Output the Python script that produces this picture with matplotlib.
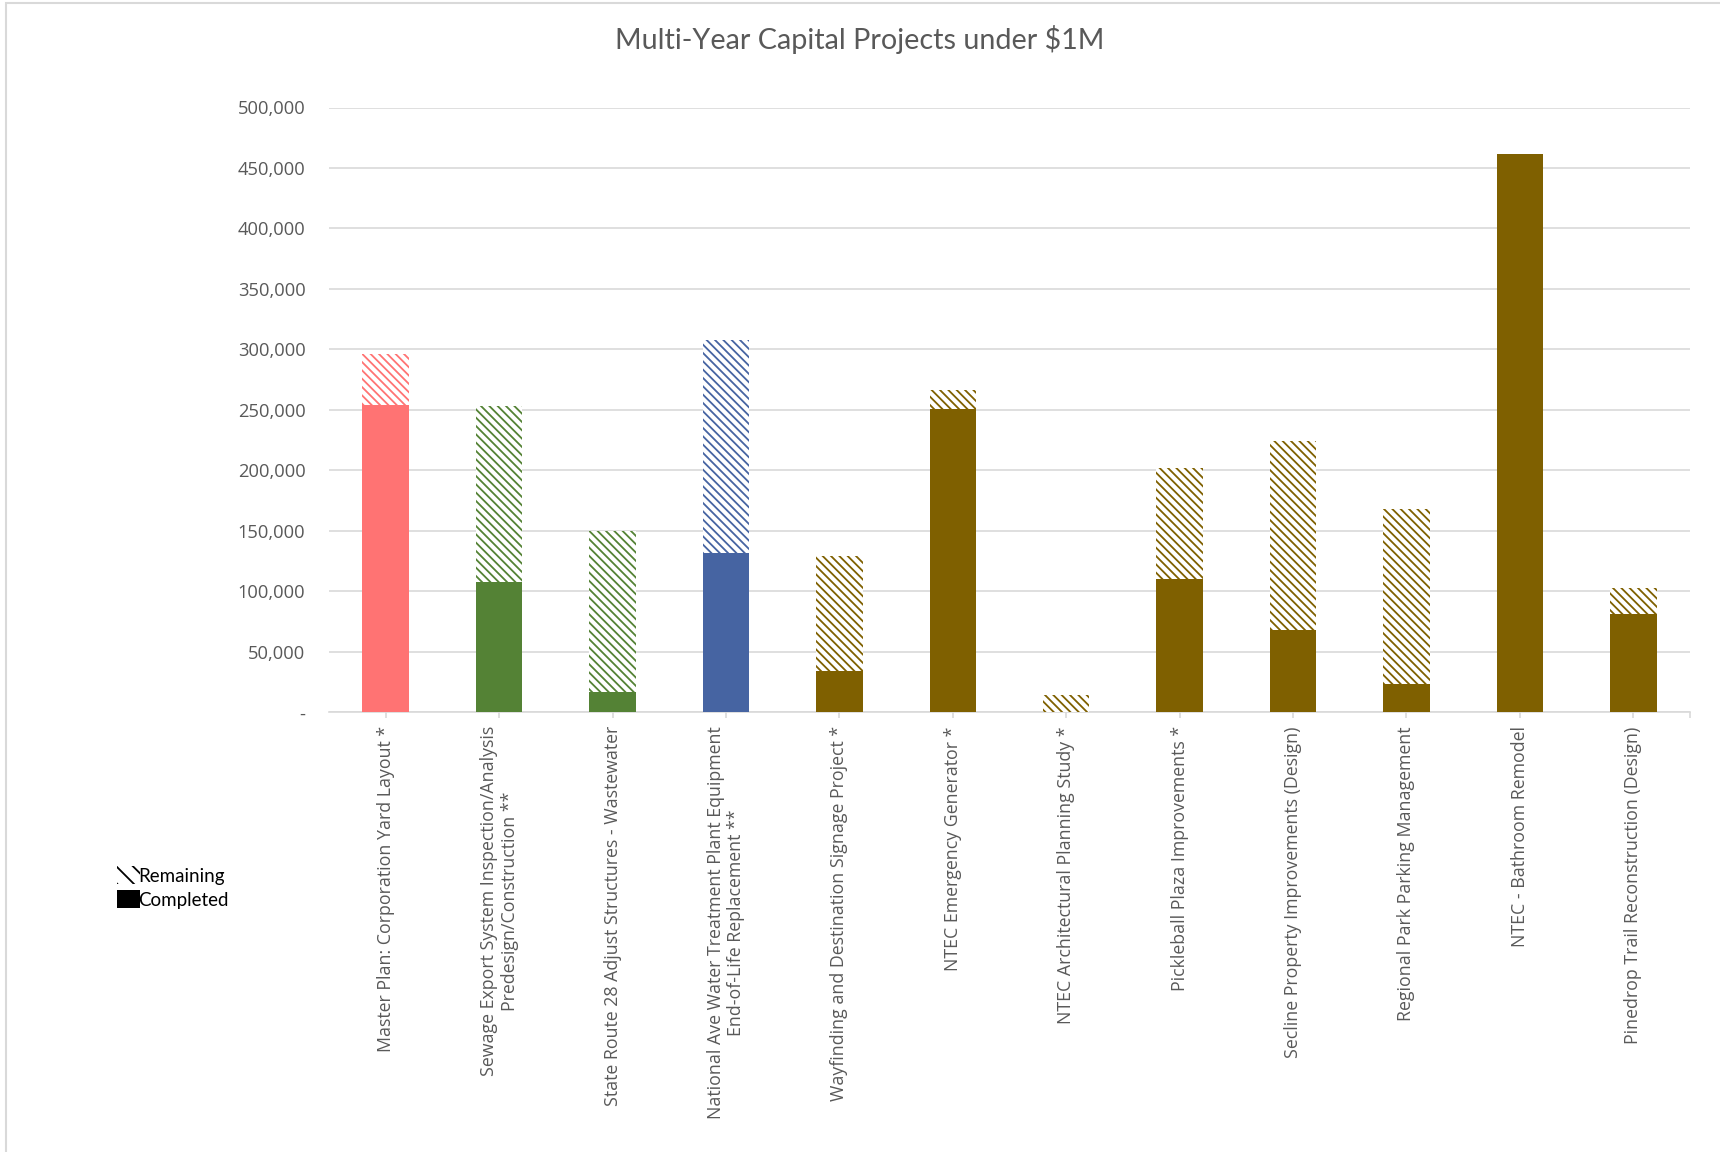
import matplotlib
matplotlib.use("Agg")
import matplotlib.pyplot as plt
from matplotlib.patches import Patch, Rectangle
from matplotlib.ticker import FuncFormatter, FixedLocator
import numpy as np

projects = [
    "Master Plan: Corporation Yard Layout *",
    "Sewage Export System Inspection/Analysis\nPredesign/Construction **",
    "State Route 28 Adjust Structures - Wastewater",
    "National Ave Water Treatment Plant Equipment\nEnd-of-Life Replacement **",
    "Wayfinding and Destination Signage Project *",
    "NTEC Emergency Generator *",
    "NTEC Architectural Planning Study *",
    "Pickleball Plaza Improvements *",
    "Secline Property Improvements (Design)",
    "Regional Park Parking Management",
    "NTEC - Bathroom Remodel",
    "Pinedrop Trail Reconstruction (Design)",
]
completed = [254000, 108000, 16500, 131500, 34000, 251000, 0, 110000, 68000, 23000, 461700, 81400]
remaining = [42000, 145600, 133100, 176500, 95000, 15300, 14300, 92100, 156700, 144700, 0, 21600]
bar_colors = ["#FF7373", "#548235", "#548235", "#4664A2",
              "#7F6000", "#7F6000", "#7F6000", "#7F6000",
              "#7F6000", "#7F6000", "#7F6000", "#7F6000"]
y_ticks = [0, 50000, 100000, 150000, 200000, 250000, 300000, 350000, 400000, 450000, 500000]

text_gray = "#595959"
grid_gray = "#D9D9D9"

plt.rcParams["hatch.linewidth"] = 1.3

fig = plt.figure(figsize=(17.2, 11.52), dpi=100)
ax = fig.add_axes([329 / 1720, 1 - 712.3 / 1152, (1690 - 329) / 1720, (712.3 - 107.5) / 1152])

x = np.arange(len(projects))
width = 0.41
ax.bar(x, completed, width=width, color=bar_colors, linewidth=0, zorder=3)
ax.bar(x, remaining, width=width, bottom=completed, facecolor="white",
       edgecolor=bar_colors, hatch="\\\\\\\\", linewidth=0, zorder=3)

ax.set_xlim(-0.5, len(projects) - 0.5)
ax.set_ylim(0, 500000)
ax.set_yticks(y_ticks)
ax.yaxis.set_major_formatter(FuncFormatter(lambda v, p: "-" if v == 0 else f"{int(v):,}"))
ax.grid(axis="y", color=grid_gray, linewidth=1.2, zorder=0)
ax.set_axisbelow(True)

for side in ("left", "right", "top"):
    ax.spines[side].set_visible(False)
ax.spines["bottom"].set_color(grid_gray)
ax.spines["bottom"].set_linewidth(1.2)

ax.set_xticks(x)
ax.set_xticklabels(projects, rotation=90, ha="center", va="top",
                   fontsize=12.8, color=text_gray, family="Open Sans")
ax.xaxis.set_minor_locator(FixedLocator([len(projects) - 0.5]))
ax.tick_params(axis="x", which="both", length=4, width=1.2, color=grid_gray, pad=6)
ax.tick_params(axis="y", length=0, pad=17, labelsize=13.2, labelcolor=text_gray)
for lbl in ax.get_yticklabels():
    lbl.set_family("Open Sans")

fig.text(0.5, 1 - 40 / 1152, "Multi-Year Capital Projects under $1M",
         ha="center", va="center", fontsize=20.7, color=text_gray, family="Lato")

handles = [
    Patch(facecolor="white", edgecolor="black", hatch="\\\\", linewidth=0, label="Remaining"),
    Patch(facecolor="black", edgecolor="black", linewidth=0, label="Completed"),
]
fig.legend(handles=handles, loc="upper left", bbox_to_anchor=(108 / 1720, 1 - 857 / 1152),
           frameon=False, handlelength=1.2, handleheight=1.1, handletextpad=-0.1,
           labelspacing=0.3, borderpad=0, prop={"family": "Lato", "size": 13.5})

# outer chart-area border
fig.patches.append(Rectangle((6 / 1720, -0.05), 1.2, 1 - 3 / 1152 + 0.05,
                             transform=fig.transFigure, fill=False,
                             edgecolor=grid_gray, linewidth=1.5))

fig.savefig("out.png", dpi=100, facecolor="white")
